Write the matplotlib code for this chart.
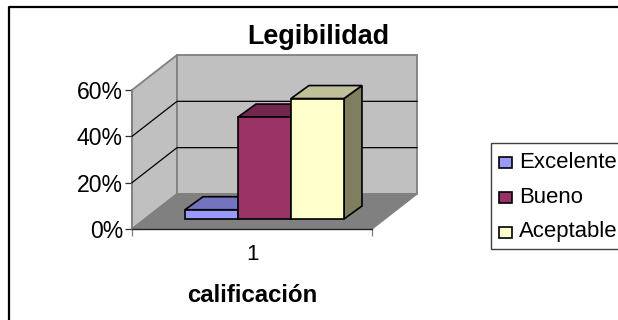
import matplotlib
matplotlib.use("Agg")
import matplotlib.pyplot as plt
from matplotlib.patches import Polygon, Rectangle

plt.rcParams['font.family'] = ['Liberation Sans', 'DejaVu Sans']

series = ['Excelente', 'Bueno', 'Aceptable']
values = [4, 44, 52]
colors = ['#9999FF', '#993366', '#FFFFCC']
top_colors = ['#7373BF', '#73264D', '#BFBF99']
side_colors = ['#62628F', '#5A2040', '#7F7F60']
yticks = [0, 20, 40, 60]
category = ['1']

W, H = 618, 320
fig = plt.figure(figsize=(W / 100, H / 100), dpi=100, facecolor='white')
ax = fig.add_axes([132 / W, 1 - 229 / H, 240 / W, 139 / H])
ax.set_xlim(0, 1)
ax.set_ylim(0, 60)
ax.patch.set_visible(False)

# depth of the 3D box, in axis units
DX, DY = 45 / 240, 35 / 139 * 60
# depth of the bars and their front offset
BDX, BDY = 18 / 240, 13 / 139 * 60
FX, FY = 0.2208, 10 / 139 * 60
BW = 0.2208


def poly(pts, fc, ec, lw=1.0, z=1):
    ax.add_patch(Polygon(pts, closed=True, fc=fc, ec=ec, lw=lw, zorder=z,
                         clip_on=False, joinstyle='miter'))


ymax = yticks[-1]
# walls and floor
poly([(0, 0), (DX, DY), (DX, ymax + DY), (0, ymax)], '#C0C0C0', '#808080', 1.3, 1)
poly([(DX, DY), (1 + DX, DY), (1 + DX, ymax + DY), (DX, ymax + DY)], '#C0C0C0', '#808080', 1.3, 1)
poly([(0, 0), (1, 0), (1 + DX, DY), (DX, DY)], '#808080', '#808080', 1.0, 2)

# gridlines on both walls
for t in yticks[1:-1]:
    ax.plot([0, DX, 1 + DX], [t, t + DY, t + DY], color='black', lw=0.9, zorder=3, clip_on=False)

# bars
for i, (v, c, tc, sc) in enumerate(zip(values, colors, top_colors, side_colors)):
    x0 = FX + i * BW
    x1 = x0 + BW
    y0 = FY
    y1 = FY + v
    z = 5 + i
    poly([(x1, y0), (x1 + BDX, y0 + BDY), (x1 + BDX, y1 + BDY), (x1, y1)], sc, 'black', 1.2, z)
    poly([(x0, y1), (x1, y1), (x1 + BDX, y1 + BDY), (x0 + BDX, y1 + BDY)], tc, 'black', 1.2, z)
    poly([(x0, y0), (x1, y0), (x1, y1), (x0, y1)], c, 'black', 1.2, z)

# axes
for s in ['top', 'right']:
    ax.spines[s].set_visible(False)
ax.spines['left'].set_color('#808080')
ax.spines['left'].set_linewidth(1.2)
ax.spines['bottom'].set_color('#202020')
ax.spines['bottom'].set_linewidth(1.0)
ax.spines['bottom'].set_zorder(4)
ax.set_yticks(yticks)
ax.set_yticklabels([f'{t}%' for t in yticks], fontsize=16.6, color='black')
ax.set_xticks([0, 1])
ax.set_xticklabels(['', ''])
ax.tick_params(axis='y', length=5, width=0.9, color='#303030', pad=1.5)
ax.tick_params(axis='x', length=5, width=0.9, direction='out', color='#808080')
fig.text(252 / W, 1 - 255 / H, category[0], ha='center', va='center', fontsize=16)
fig.text(252 / W, 1 - 295 / H, 'calificación', ha='center', va='center', fontsize=17.3, fontweight='bold')
fig.text(318 / W, 1 - 37 / H, 'Legibilidad', ha='center', va='center', fontsize=19.4, fontweight='bold')

# legend
fig.add_artist(Rectangle((491 / W, 1 - 249 / H), 140 / W, 106 / H, transform=fig.transFigure,
                         fc='white', ec='#404040', lw=1.0))
for ym, yb, name, c in zip([162.5, 197.5, 232.5], [167.5, 203, 237.5], series, colors):
    fig.add_artist(Rectangle((499 / W, 1 - (ym + 5) / H), 12.5 / W, 10.5 / H, transform=fig.transFigure,
                             fc=c, ec='black', lw=1.2))
    fig.text(519 / W, 1 - yb / H, name, ha='left', va='baseline', fontsize=15.9)

# chart border
fig.add_artist(plt.Line2D([9 / W, 9 / W, 1], [0, 1 - 7 / H, 1 - 7 / H], transform=fig.transFigure,
                          color='black', lw=1.6))

fig.savefig('out.png', dpi=100, facecolor='white')
